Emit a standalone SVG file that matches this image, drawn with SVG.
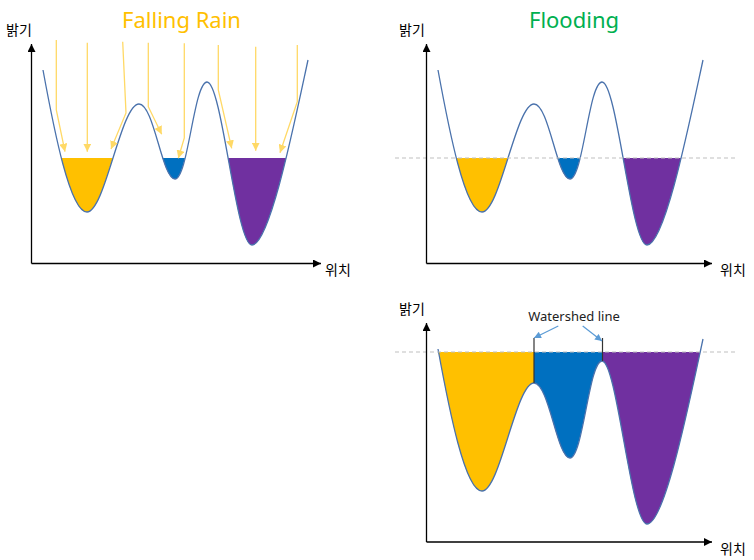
<svg xmlns="http://www.w3.org/2000/svg" xmlns:xlink="http://www.w3.org/1999/xlink" width="754" height="560" viewBox="0 0 754 560">
<style>
.curve{fill:none;stroke:#4A72AC;stroke-width:1.3}
.axis{fill:none;stroke:#000;stroke-width:1.3}
.rain{fill:none;stroke:#FFD966;stroke-width:1.3}
.dash{fill:none;stroke:#BFBFBF;stroke-width:1;stroke-dasharray:4 3}
.ws{fill:none;stroke:#333;stroke-width:1.2}
.wsa{fill:none;stroke:#5B9BD5;stroke-width:1.2}
.kr{font-family:"Noto Sans CJK KR","Noto Sans",sans-serif;font-size:14px;fill:#000}
.title{font-family:"Noto Sans","Open Sans",sans-serif;font-size:22px;text-anchor:middle}
.lbl{font-family:"Noto Sans","Open Sans",sans-serif;font-size:13px;fill:#222;text-anchor:middle}
.y{fill:#FFC000}.b{fill:#0070C0}.p{fill:#7030A0}
</style>
<defs>
<path id="curve" d="M43,70 C54,130 70,212 87,212 C105,212 121,104 139,104 C154,104 162,179 175,179 C188,179 194,82 207,82 C222,82 236,245 252,245 C270,245 295,120 308,60"/>
<clipPath id="above"><path d="M43,70 C54,130 70,212 87,212 C105,212 121,104 139,104 C154,104 162,179 175,179 C188,179 194,82 207,82 C222,82 236,245 252,245 C270,245 295,120 308,60 L308,0 L43,0 Z"/></clipPath>
<marker id="ah" viewBox="0 0 10 10" refX="10" refY="5" markerWidth="10" markerHeight="8" orient="auto" markerUnits="userSpaceOnUse"><path d="M0,0 L10,5 L0,10 Z" fill="#000"/></marker>
<marker id="rh" viewBox="0 0 10 10" refX="10" refY="5" markerWidth="8" markerHeight="8" orient="auto" markerUnits="userSpaceOnUse"><path d="M0,0 L10,5 L0,10 Z" fill="#FFD966"/></marker>
<marker id="bh" viewBox="0 0 10 10" refX="10" refY="5" markerWidth="9" markerHeight="7" orient="auto" markerUnits="userSpaceOnUse"><path d="M0,0 L10,5 L0,10 Z" fill="#5B9BD5"/></marker>
</defs>

<g id="panel-falling-rain">
  <text class="title" x="181.5" y="28" fill="#FFC000">Falling Rain</text>
  <text class="kr" x="6" y="35">밝기</text>
  <text class="kr" x="325" y="275">위치</text>
  <g clip-path="url(#above)">
    <rect class="y" x="43" y="158" width="96" height="100"/>
    <rect class="b" x="139" y="158" width="68" height="100"/>
    <rect class="p" x="207" y="158" width="101" height="100"/>
  </g>
  <use xlink:href="#curve" class="curve"/>
  <path class="axis" d="M31.5,263.5 L31.5,44" marker-end="url(#ah)"/>
  <path class="axis" d="M31.5,263.5 L321,263.5" marker-end="url(#ah)"/>
</g>

<g id="panel-flooding">
  <text class="title" x="574" y="28" fill="#00B050">Flooding</text>
  <text class="kr" x="399" y="35">밝기</text>
  <text class="kr" x="720" y="275">위치</text>
  <g transform="translate(395,0)">
    <g clip-path="url(#above)">
      <rect class="y" x="43" y="158" width="96" height="100"/>
      <rect class="b" x="139" y="158" width="68" height="100"/>
      <rect class="p" x="207" y="158" width="101" height="100"/>
    </g>
    <use xlink:href="#curve" class="curve"/>
  </g>
  <path class="dash" d="M395,158 L737,158"/>
  <path class="axis" d="M426.5,263.5 L426.5,44" marker-end="url(#ah)"/>
  <path class="axis" d="M426.5,263.5 L712,263.5" marker-end="url(#ah)"/>
</g>

<g id="panel-watershed">
  <text class="kr" x="399" y="314">밝기</text>
  <text class="kr" x="720" y="554">위치</text>
  <text class="lbl" x="574" y="321">Watershed line</text>
  <g transform="translate(395,279)">
    <g clip-path="url(#above)">
      <rect class="y" x="43" y="73" width="96" height="200"/>
      <rect class="b" x="139" y="73" width="68" height="200"/>
      <rect class="p" x="207" y="73" width="101" height="200"/>
    </g>
    <use xlink:href="#curve" class="curve"/>
  </g>
  <path class="dash" d="M395,352 L737,352"/>
  <path class="ws" d="M534,338 L534,383"/>
  <path class="ws" d="M602.5,338 L602.5,361"/>
  <path class="axis" d="M426.5,542 L426.5,323" marker-end="url(#ah)"/>
  <path class="axis" d="M426.5,542 L712,542" marker-end="url(#ah)"/>
</g>

<g id="connectors">
  <path class="rain" d="M56.3,40 L56.3,110 L65,151.7" marker-end="url(#rh)"/>
  <path class="rain" d="M87.3,42.7 L87.3,151.7" marker-end="url(#rh)"/>
  <path class="rain" d="M122.7,41.7 L126,113 L111,149" marker-end="url(#rh)"/>
  <path class="rain" d="M148.3,42.7 L148.3,106.7 L161.7,134.3" marker-end="url(#rh)"/>
  <path class="rain" d="M184.3,43.3 L184.3,138 L178.3,158.3" marker-end="url(#rh)"/>
  <path class="rain" d="M218.3,45 L218.3,90 L231.7,148.3" marker-end="url(#rh)"/>
  <path class="rain" d="M255.7,46.7 L255.7,150.7" marker-end="url(#rh)"/>
  <path class="rain" d="M297.3,45 L297.3,101.7 L280,152.7" marker-end="url(#rh)"/>
  <path class="wsa" d="M558.3,326 L534,338" marker-end="url(#bh)"/>
  <path class="wsa" d="M582.7,326 L602,341" marker-end="url(#bh)"/>
</g>
</svg>
